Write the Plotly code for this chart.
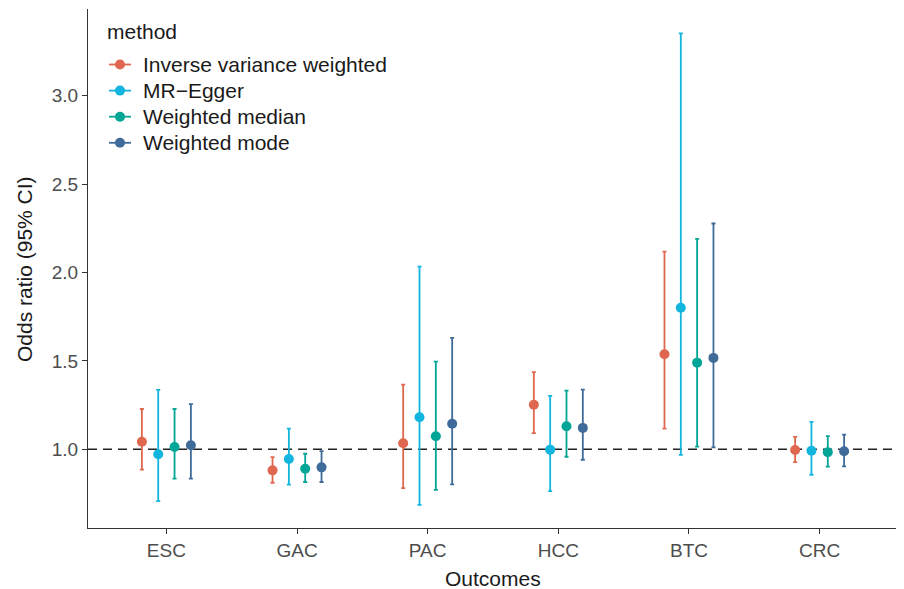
import plotly.graph_objects as go

outcomes = ["ESC", "GAC", "PAC", "HCC", "BTC", "CRC"]
methods = ["Inverse variance weighted", "MR\u2212Egger", "Weighted median", "Weighted mode"]
colors = ["#E0674F", "#12B5DE", "#03A597", "#3E6B9A"]

# odds ratio, lower CI, upper CI per method (order of outcomes)
ivw_or = [1.043, 0.881, 1.034, 1.252, 1.538, 0.996]
ivw_lo = [0.885, 0.811, 0.781, 1.092, 1.117, 0.928]
ivw_hi = [1.228, 0.956, 1.366, 1.437, 2.118, 1.070]

egger_or = [0.972, 0.945, 1.181, 0.998, 1.801, 0.992]
egger_lo = [0.707, 0.800, 0.686, 0.764, 0.968, 0.856]
egger_hi = [1.336, 1.117, 2.033, 1.302, 3.352, 1.155]

wmed_or = [1.013, 0.890, 1.074, 1.130, 1.490, 0.983]
wmed_lo = [0.834, 0.815, 0.771, 0.958, 1.015, 0.902]
wmed_hi = [1.228, 0.975, 1.496, 1.332, 2.190, 1.074]

wmode_or = [1.023, 0.898, 1.145, 1.121, 1.517, 0.989]
wmode_lo = [0.834, 0.815, 0.802, 0.941, 1.011, 0.904]
wmode_hi = [1.255, 0.990, 1.630, 1.337, 2.277, 1.083]

y_ticks = [1.0, 1.5, 2.0, 2.5, 3.0]

series = [
    (ivw_or, ivw_lo, ivw_hi),
    (egger_or, egger_lo, egger_hi),
    (wmed_or, wmed_lo, wmed_hi),
    (wmode_or, wmode_lo, wmode_hi),
]

# the page body adds an 8px offset; figure is sized so it ends at the window edge
OFF = 8
W, H = 904 - OFF, 589 - OFF
ML, MR, MT, MB = 88 - OFF, 6, 9 - OFF, 61
PW, PH = W - ML - MR, H - MT - MB


def px_x(px):  # page pixel -> paper coordinate
    return (px - OFF - ML) / PW


def px_y(py):
    return (H - MB - (py - OFF)) / PH


dodge_width = 0.5
n = len(methods)
font = "Liberation Sans, Arial, sans-serif"

fig = go.Figure()
for k, (name, col, (est, lo, hi)) in enumerate(zip(methods, colors, series)):
    off = -dodge_width / 2 + dodge_width / n * (k + 0.5)
    xs = [i + 1 + off for i in range(len(outcomes))]
    fig.add_trace(go.Scatter(
        x=xs, y=est, mode="markers", name=name, showlegend=False,
        marker=dict(color=col, size=10),
        error_y=dict(type="data", symmetric=False,
                     array=[h - e for h, e in zip(hi, est)],
                     arrayminus=[e - l for e, l in zip(est, lo)],
                     color=col, thickness=1.8, width=2),
    ))

shapes = [dict(type="line", xref="paper", x0=0, x1=1, yref="y", y0=1, y1=1,
               line=dict(color="#222222", width=1.4, dash="9px,6px"), layer="below")]
annotations = []

# legend (drawn as keys + text)
annotations.append(dict(text="method", xref="paper", yref="paper", x=px_x(105), y=px_y(32),
                        xanchor="left", yanchor="middle", showarrow=False,
                        font=dict(size=21, color="#1A1A1A")))
for k, (name, col) in enumerate(zip(methods, colors)):
    cy = 64.5 + 26.1 * k
    shapes.append(dict(type="line", xref="paper", yref="paper",
                       x0=px_x(109), x1=px_x(131), y0=px_y(cy), y1=px_y(cy),
                       line=dict(color=col, width=1.8)))
    shapes.append(dict(type="circle", xref="paper", yref="paper",
                       xsizemode="pixel", ysizemode="pixel",
                       xanchor=px_x(120), yanchor=px_y(cy),
                       x0=-5, x1=5, y0=-5, y1=5,
                       fillcolor=col, line=dict(color=col, width=0)))
    annotations.append(dict(text=name, xref="paper", yref="paper", x=px_x(141), y=px_y(cy),
                            xanchor="left", yanchor="middle", showarrow=False,
                            font=dict(size=21, color="#1A1A1A")))

# axis titles
annotations.append(dict(text="Outcomes", xref="paper", yref="paper", x=0.5, y=px_y(578),
                        xanchor="center", yanchor="middle", showarrow=False,
                        font=dict(size=21, color="#1A1A1A")))
annotations.append(dict(text="Odds ratio (95% CI)", xref="paper", yref="paper", x=px_x(24),
                        y=px_y(269), xanchor="center", yanchor="middle", textangle=-90,
                        showarrow=False, font=dict(size=21, color="#1A1A1A")))

fig.update_layout(
    width=W, height=H,
    margin=dict(l=ML, r=MR, t=MT, b=MB, autoexpand=False),
    paper_bgcolor="white", plot_bgcolor="white",
    font=dict(family=font, color="#1A1A1A"),
    showlegend=False,
    shapes=shapes, annotations=annotations,
    xaxis=dict(
        range=[0.4, 6.6], tickmode="array", automargin=False,
        tickvals=list(range(1, len(outcomes) + 1)), ticktext=outcomes,
        showgrid=False, zeroline=False,
        showline=True, linecolor="#333333", linewidth=1.3,
        ticks="outside", ticklen=5, tickcolor="#333333", tickwidth=1.3,
        tickfont=dict(size=19, color="#4D4D4D"),
    ),
    yaxis=dict(
        range=[0.555, 3.49], tickmode="array", automargin=False,
        tickvals=y_ticks, ticktext=[f"{v:.1f}" for v in y_ticks],
        showgrid=False, zeroline=False,
        showline=True, linecolor="#333333", linewidth=1.3,
        ticks="outside", ticklen=5, tickcolor="#333333", tickwidth=1.3,
        tickfont=dict(size=19, color="#4D4D4D"),
    ),
)

fig.write_html("out.html")
